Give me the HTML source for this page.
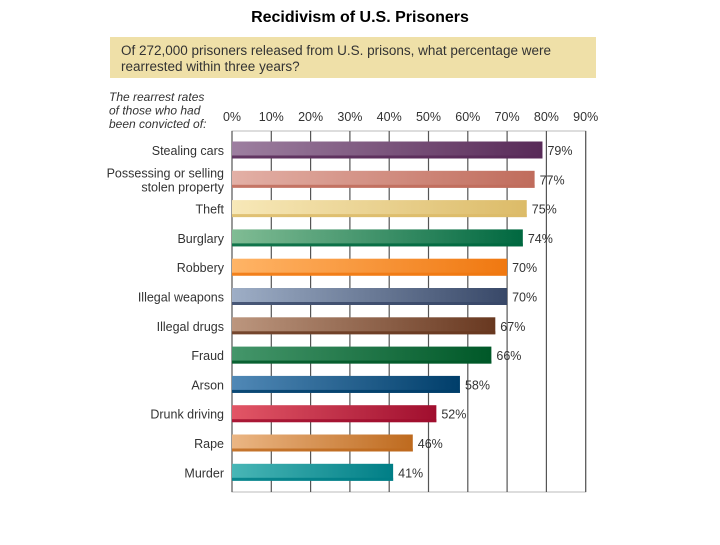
<!DOCTYPE html>
<html><head><meta charset="utf-8"><style>
body{margin:0;background:#fff;}
#wrap{position:relative;width:720px;height:540px;font-family:"Liberation Sans",sans-serif;}
</style></head><body>
<div id="wrap">
<svg id="chart" width="720" height="540"></svg>
</div>
<script>
const categories=["Stealing cars","Possessing or selling|stolen property","Theft","Burglary","Robbery","Illegal weapons","Illegal drugs","Fraud","Arson","Drunk driving","Rape","Murder"];
const values=[79,77,75,74,70,70,67,66,58,52,46,41];
const tickLabels=["0%","10%","20%","30%","40%","50%","60%","70%","80%","90%"];
const tickValues=[0,10,20,30,40,50,60,70,80,90];
const colorsLight=["#9d7fa0","#e3b0a6","#f7e8b8","#80bc94","#ffb466","#9eaec6","#bc967e","#44966a","#5088b6","#e25666","#ebb684","#48b6b6"];
const colorsDark=["#582a58","#c06c5c","#dcbb68","#006840","#f07810","#384868","#683820","#005828","#003e6a","#a00e2e","#be6a1e","#007e86"];
const NS="http://www.w3.org/2000/svg";
const svg=document.getElementById("chart");
const x0=232,pxPer=3.93,yTop=131,yBot=492,firstY=150,step=29.3,barH=17;
const xs=v=>x0+v*pxPer;
const ys=i=>firstY+i*step;
function el(t,a){const e=document.createElementNS(NS,t);for(const k in a)e.setAttribute(k,a[k]);svg.appendChild(e);return e;}
function txt(x,y,s,a){const e=el("text",Object.assign({x:x,y:y},a));e.textContent=s;return e;}
let defs=el("defs",{});
let t=txt(360,22,"Recidivism of U.S. Prisoners",{"text-anchor":"middle","font-size":"16","font-weight":"bold",fill:"#000"});


let hb=el("rect",{x:110,y:37,width:486,height:41,fill:"#efe0a8"});


let q1=txt(121,55,"Of 272,000 prisoners released from U.S. prisons, what percentage were",{"font-size":"13.5",fill:"#333"});


let q2=txt(121,71,"rearrested within three years?",{"font-size":"13.5",fill:"#333"});


["The rearrest rates","of those who had","been convicted of:"].forEach((s,i)=>{
 let e=txt(109,101+i*13.5,s,{"font-size":"12","font-style":"italic",fill:"#333"});
 
 
});
let box=el("rect",{x:x0,y:yTop,width:xs(90)-x0,height:yBot-yTop,fill:"none",stroke:"#bbb","stroke-width":1});


tickValues.forEach((v,i)=>{
 let g=el("line",{x1:xs(v),x2:xs(v),y1:yTop,y2:yBot,stroke:"#555","stroke-width":1.2});
 
 
 let l=txt(xs(v),121,tickLabels[i],{"text-anchor":"middle","font-size":"12.5",fill:"#333"});
 
 
});
categories.forEach((c,i)=>{
 const gid="g"+i;
 const lg=el("linearGradient",{id:gid,x1:0,x2:1,y1:0,y2:0});
 defs.appendChild(lg);
 const s1=document.createElementNS(NS,"stop");s1.setAttribute("offset","0");s1.setAttribute("stop-color",colorsLight[i]);lg.appendChild(s1);
 const s2=document.createElementNS(NS,"stop");s2.setAttribute("offset","1");s2.setAttribute("stop-color",colorsDark[i]);lg.appendChild(s2);
 const y=ys(i);
 let b=el("rect",{x:x0,y:y-barH/2,width:xs(values[i])-x0,height:barH,fill:"url(#"+gid+")"});
 
 
 let sh=el("rect",{x:x0,y:y+barH/2-3,width:xs(values[i])-x0,height:3,fill:colorsDark[i],opacity:0.85});
 
 
 let vl=txt(xs(values[i])+5,y+5,values[i]+"%",{"font-size":"12.5",fill:"#333"});
 
 
 const parts=c.split("|");
 parts.forEach((p,j)=>{
  const yy=parts.length==1?y+5:y-2+j*14;
  let cl=txt(224,yy,p,{"text-anchor":"end","font-size":"12.5",fill:"#333"});
  
  
 });
});
</script>
</body></html>
